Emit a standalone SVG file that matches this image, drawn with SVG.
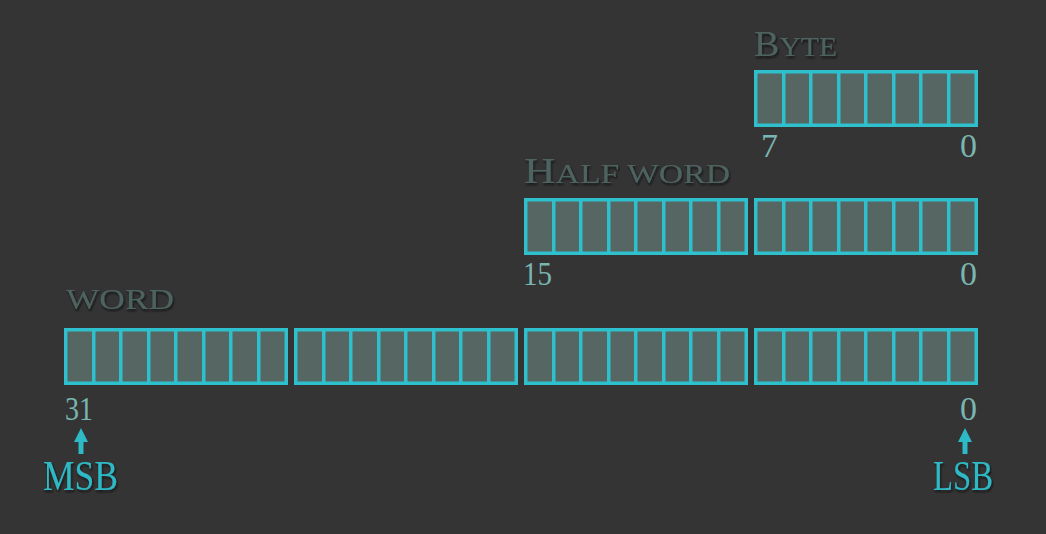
<svg xmlns="http://www.w3.org/2000/svg" xmlns:xlink="http://www.w3.org/1999/xlink" width="1046" height="534" viewBox="0 0 1046 534">
<style>
.lbl{font-family:"Liberation Serif",serif;fill:#4e6361;filter:url(#sh)}
.num{font-family:"Liberation Serif",serif;fill:#7ab6b1;font-size:34px}
.sb{font-family:"Liberation Serif",serif;fill:#2db9c5;font-size:42px;filter:url(#sh)}
.cell{fill:#566763}
.frame{fill:#2ec0cc}
.arr{fill:#2db9c5}
</style>
<defs>
<filter id="sh" x="-10%" y="-20%" width="130%" height="160%">
<feDropShadow dx="1" dy="2" stdDeviation="1.2" flood-color="#111" flood-opacity="0.8"/>
</filter>
<g id="reg">
<rect class="frame" x="0" y="0" width="224" height="57"/>
<rect class="cell" x="3.5" y="3.5" width="24.5" height="50"/>
<rect class="cell" x="31.5" y="3.5" width="23.5" height="50"/>
<rect class="cell" x="58.5" y="3.5" width="24.5" height="50"/>
<rect class="cell" x="86.5" y="3.5" width="23.5" height="50"/>
<rect class="cell" x="113.5" y="3.5" width="24.5" height="50"/>
<rect class="cell" x="141.5" y="3.5" width="23.5" height="50"/>
<rect class="cell" x="168.5" y="3.5" width="24.5" height="50"/>
<rect class="cell" x="196.5" y="3.5" width="24" height="50"/>
</g>
</defs>
<rect width="1046" height="534" fill="#343434"/>

<g id="byte">
<text class="lbl" x="754" y="56" textLength="83" lengthAdjust="spacingAndGlyphs"><tspan font-size="36">B</tspan><tspan font-size="28">YTE</tspan></text>
<use xlink:href="#reg" href="#reg" x="754" y="70"/>
<text class="num" x="761" y="157">7</text>
<text class="num" x="977" y="157" text-anchor="end">0</text>
</g>

<g id="halfword">
<text class="lbl" x="524" y="183" textLength="206" lengthAdjust="spacingAndGlyphs"><tspan font-size="35">H</tspan><tspan font-size="27">ALF WORD</tspan></text>
<use xlink:href="#reg" href="#reg" x="524" y="198"/>
<use xlink:href="#reg" href="#reg" x="754" y="198"/>
<text class="num" x="523" y="285" textLength="29" lengthAdjust="spacingAndGlyphs">15</text>
<text class="num" x="977" y="285" text-anchor="end">0</text>
</g>

<g id="word">
<text class="lbl" x="66" y="309" font-size="29" textLength="108" lengthAdjust="spacingAndGlyphs">WORD</text>
<use xlink:href="#reg" href="#reg" x="64" y="328"/>
<use xlink:href="#reg" href="#reg" x="294" y="328"/>
<use xlink:href="#reg" href="#reg" x="524" y="328"/>
<use xlink:href="#reg" href="#reg" x="754" y="328"/>
<text class="num" x="65" y="420" textLength="28" lengthAdjust="spacingAndGlyphs">31</text>
<text class="num" x="977" y="420" text-anchor="end">0</text>
</g>

<g id="connectors">
<path class="arr" d="M81 428 L88 442 L83.5 442 L83.5 454 L78.5 454 L78.5 442 L74 442 Z"/>
<path class="arr" d="M965 428 L972 442 L967.5 442 L967.5 454 L962.5 454 L962.5 442 L958 442 Z"/>
</g>

<g id="msb">
<text class="sb" x="43" y="490" textLength="75" lengthAdjust="spacingAndGlyphs">MSB</text>
</g>
<g id="lsb">
<text class="sb" x="933" y="490" textLength="60" lengthAdjust="spacingAndGlyphs">LSB</text>
</g>
</svg>
